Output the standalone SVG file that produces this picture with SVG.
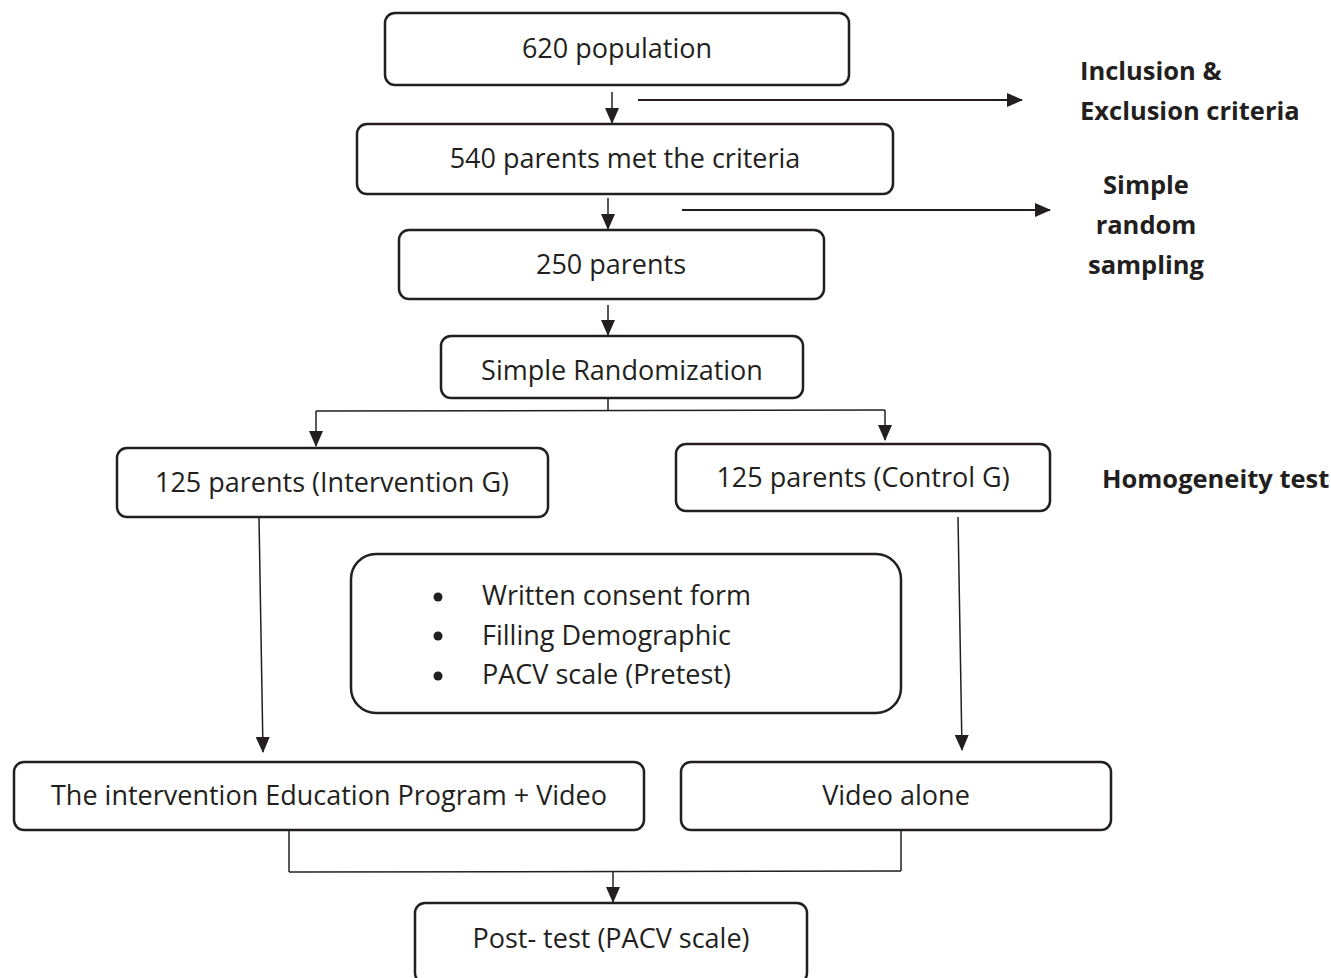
<svg xmlns="http://www.w3.org/2000/svg" width="1331" height="978" viewBox="0 0 1331 978">
<defs>
<style>
.box{fill:#fff;stroke:#231f20;stroke-width:2.5}
.t{font-family:"Open Sans","Liberation Sans",sans-serif;font-size:27px;fill:#231f20;text-anchor:middle;dominant-baseline:middle}
.b{font-family:"Open Sans","Liberation Sans",sans-serif;font-size:25.5px;font-weight:bold;fill:#231f20}
.c{fill:none;stroke:#231f20;stroke-width:1.5}
.c2{fill:none;stroke:#231f20;stroke-width:2}
</style>
<marker id="ahb" markerWidth="16" markerHeight="14" refX="15" refY="7" orient="auto" markerUnits="userSpaceOnUse" viewBox="0 0 16 14">
<path d="M0,0 L16,7 L0,14 z" fill="#231f20"/>
</marker>
</defs>
<g id="connectors">
<line class="c" x1="612" y1="92" x2="612" y2="123" marker-end="url(#ahb)"/>
<line class="c2" x1="638" y1="100" x2="1022" y2="100" marker-end="url(#ahb)"/>
<line class="c" x1="608" y1="198" x2="608" y2="229" marker-end="url(#ahb)"/>
<line class="c2" x1="682" y1="210" x2="1050" y2="210" marker-end="url(#ahb)"/>
<line class="c" x1="608" y1="305" x2="608" y2="335" marker-end="url(#ahb)"/>
<line class="c" x1="608" y1="398" x2="608" y2="411"/>
<line class="c" x1="316" y1="411" x2="885" y2="410"/>
<line class="c" x1="316" y1="411" x2="316" y2="446" marker-end="url(#ahb)"/>
<line class="c" x1="885" y1="410" x2="885" y2="440" marker-end="url(#ahb)"/>
<line class="c" x1="259" y1="518" x2="263" y2="752" marker-end="url(#ahb)"/>
<line class="c" x1="958" y1="517" x2="962" y2="750" marker-end="url(#ahb)"/>
<line class="c" x1="289" y1="831" x2="289" y2="872"/>
<line class="c" x1="901" y1="831" x2="901" y2="871"/>
<line class="c" x1="289" y1="872" x2="901" y2="871"/>
<line class="c" x1="613" y1="871" x2="613" y2="902" marker-end="url(#ahb)"/>
</g>
<g id="n1"><rect class="box" x="385" y="13" width="464" height="72" rx="10"/><text class="t" x="617" y="51">620 population</text></g>
<g id="n2"><rect class="box" x="357" y="124" width="536" height="70" rx="10"/><text class="t" x="625" y="161">540 parents met the criteria</text></g>
<g id="n3"><rect class="box" x="399" y="230" width="425" height="69" rx="10"/><text class="t" x="611" y="267">250 parents</text></g>
<g id="n4"><rect class="box" x="441" y="336" width="362" height="62" rx="10"/><text class="t" x="622" y="373">Simple Randomization</text></g>
<g id="n5"><rect class="box" x="117" y="448" width="431" height="69" rx="10"/><text class="t" x="332" y="485">125 parents (Intervention G)</text></g>
<g id="n6"><rect class="box" x="676" y="444" width="374" height="67" rx="10"/><text class="t" x="863" y="480">125 parents (Control G)</text></g>
<g id="n7"><rect class="box" x="351" y="554" width="550" height="159" rx="25"/>
<circle cx="438" cy="597" r="4.5" fill="#231f20"/><circle cx="438" cy="636" r="4.5" fill="#231f20"/><circle cx="438" cy="676" r="4.5" fill="#231f20"/>
<text class="t" x="482" y="598" style="text-anchor:start">Written consent form</text>
<text class="t" x="482" y="638" style="text-anchor:start">Filling Demographic</text>
<text class="t" x="482" y="677" style="text-anchor:start">PACV scale (Pretest)</text></g>
<g id="n8"><rect class="box" x="14" y="762" width="630" height="68" rx="10"/><text class="t" x="329" y="798">The intervention Education Program + Video</text></g>
<g id="n9"><rect class="box" x="681" y="762" width="430" height="68" rx="10"/><text class="t" x="896" y="798">Video alone</text></g>
<g id="n10"><rect class="box" x="415" y="903" width="392" height="80" rx="10"/><text class="t" x="611" y="941">Post- test (PACV scale)</text></g>
<g id="labels">
<text class="b" x="1080" y="80">Inclusion &amp;</text>
<text class="b" x="1080" y="120">Exclusion criteria</text>
<text class="b" x="1146" y="194" text-anchor="middle">Simple</text>
<text class="b" x="1146" y="234" text-anchor="middle">random</text>
<text class="b" x="1146" y="274" text-anchor="middle">sampling</text>
<text class="b" x="1102" y="488">Homogeneity test</text>
</g>
</svg>
